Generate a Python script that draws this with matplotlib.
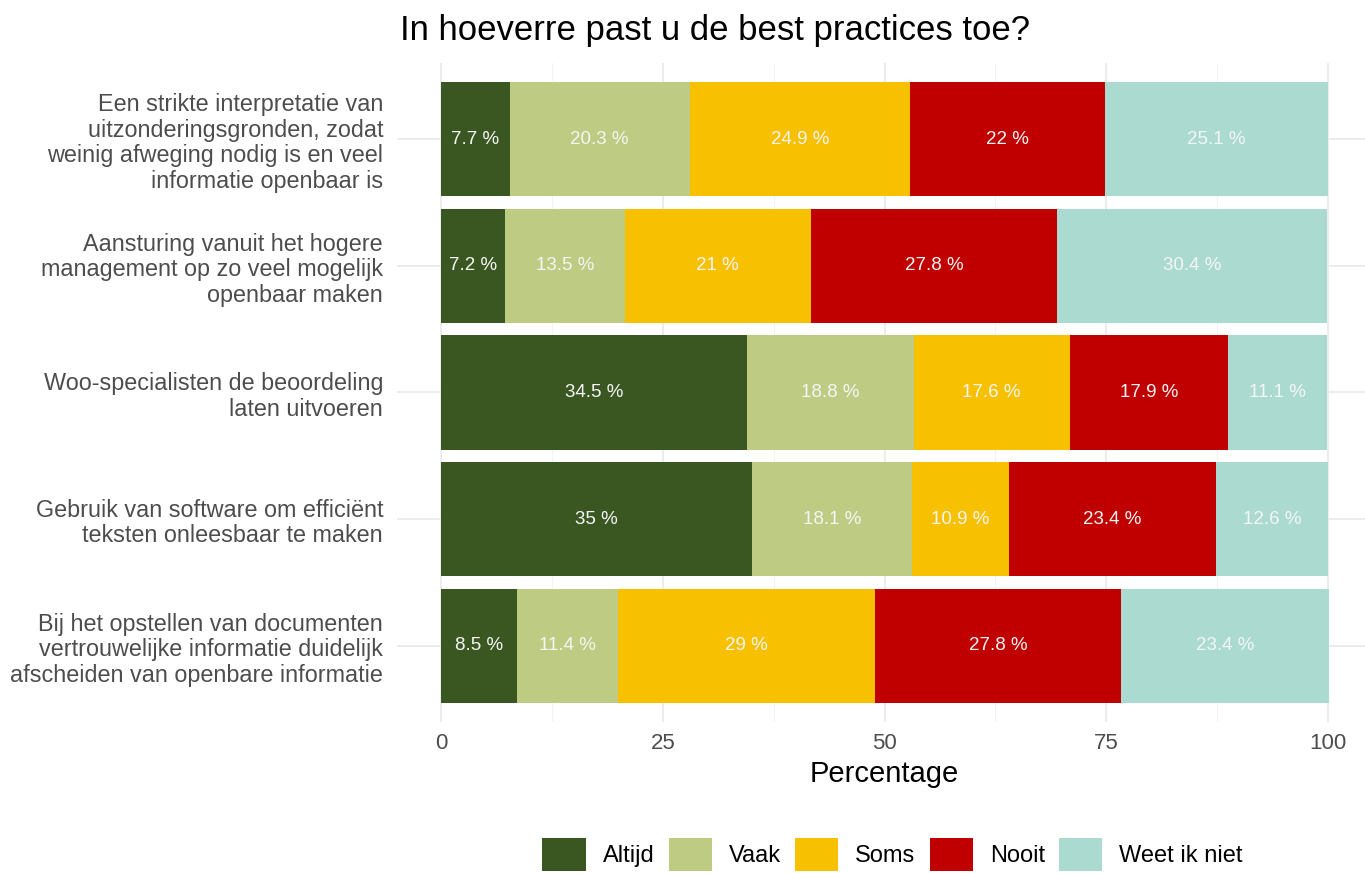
import matplotlib
matplotlib.use('Agg')
import matplotlib.pyplot as plt
from matplotlib.patches import Patch
import numpy as np

plt.rcParams['font.family'] = ['Liberation Sans', 'DejaVu Sans']

# data (top bar first)
questions = [
    'Een strikte interpretatie van\nuitzonderingsgronden, zodat\nweinig afweging nodig is en veel\ninformatie openbaar is',
    'Aansturing vanuit het hogere\nmanagement op zo veel mogelijk\nopenbaar maken',
    'Woo-specialisten de beoordeling\nlaten uitvoeren',
    'Gebruik van software om efficiënt\nteksten onleesbaar te maken',
    'Bij het opstellen van documenten\nvertrouwelijke informatie duidelijk\nafscheiden van openbare informatie',
]
answers = ['Altijd', 'Vaak', 'Soms', 'Nooit', 'Weet ik niet']
altijd = [7.7, 7.2, 34.5, 35, 8.5]
vaak = [20.3, 13.5, 18.8, 18.1, 11.4]
soms = [24.9, 21, 17.6, 10.9, 29]
nooit = [22, 27.8, 17.9, 23.4, 27.8]
weet = [25.1, 30.4, 11.1, 12.6, 23.4]
colors = ['#3A5722', '#BDCB83', '#F7C000', '#C00000', '#AADAD0']

series = [altijd, vaak, soms, nooit, weet]

fig = plt.figure(figsize=(13.65, 8.73), dpi=100)
ax = fig.add_axes([397/1365, 1-722/873, 975/1365, 659/873])

ypos = np.arange(len(questions), 0, -1)
left = np.zeros(len(questions))
for vals, col in zip(series, colors):
    vals = np.array(vals, dtype=float)
    ax.barh(ypos, vals, left=left, height=0.9, color=col, zorder=3)
    for y, l, v in zip(ypos, left, vals):
        ax.text(l + v/2, y, f'{v:g} %', ha='center', va='center',
                color='#F5F5F5', fontsize=13.5, zorder=4)
    left += vals

ax.set_xlim(-5, 105)
ax.set_ylim(0.4, 5.6)
ax.set_xticks([0, 25, 50, 75, 100])
ax.set_xticks([12.5, 37.5, 62.5, 87.5], minor=True)
ax.set_yticks(ypos)
ax.set_yticklabels(questions, fontsize=16.8, color='#4D4D4D', linespacing=1.14)
ax.tick_params(axis='x', labelsize=16, labelcolor='#4D4D4D', length=0, pad=8)
ax.tick_params(axis='y', length=0, pad=10)
ax.tick_params(which='minor', length=0)
ax.grid(True, which='major', color='#EBEBEB', linewidth=1.3, zorder=0)
ax.grid(True, which='minor', axis='x', color='#F3F3F3', linewidth=0.8, zorder=0)
for s in ax.spines.values():
    s.set_visible(False)
ax.set_xlabel('Percentage', fontsize=21, labelpad=4)

fig.text(0.524, 0.965, 'In hoeverre past u de best practices toe?',
         ha='center', va='center', fontsize=25)

handles = [Patch(facecolor=c, label=a) for c, a in zip(colors, answers)]
fig.legend(handles=handles, loc='lower center', bbox_to_anchor=(0.654, -0.022),
           ncol=5, frameon=False, fontsize=17, handlelength=1.83,
           handleheight=1.8, handletextpad=0.72, columnspacing=0.6)

fig.savefig('out.png', dpi=100)
